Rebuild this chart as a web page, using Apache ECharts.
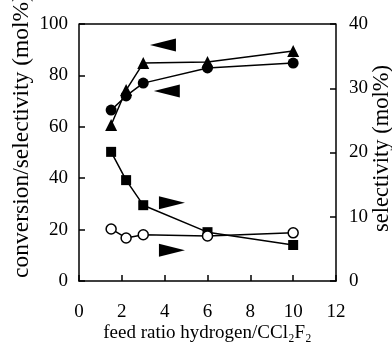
<!DOCTYPE html>
<html>
<head>
<meta charset="utf-8">
<script src="https://cdn.jsdelivr.net/npm/echarts@6/dist/echarts.min.js"></script>
<style>html,body{margin:0;padding:0;background:#fff}#c{width:392px;height:344px}</style>
</head>
<body>
<div id="c"></div>
<script>
var feedRatio = [1.5, 2.2, 3, 6, 10];
var conversionTri = [60.7, 74.3, 84.8, 85.2, 89.5];   // left axis
var selectivityDot = [66.5, 72.0, 77.0, 82.9, 84.8];  // left axis
var selectivitySq = [20.1, 15.7, 11.8, 7.6, 5.6];     // right axis
var selectivityOpen = [8.1, 6.7, 7.2, 7.0, 7.5];      // right axis
// annotation arrows: [x, left-axis value, direction]
var arrowX = [3.92, 4.1, 4.34, 4.34];
var arrowY = [91.8, 73.9, 30.4, 12.0];
var arrowDir = ['left', 'left', 'right', 'right'];
var xTicks = [0, 2, 4, 6, 8, 10, 12];

function pairs(xs, ys){ return xs.map(function(x,i){ return [x, ys[i]]; }); }

var font = 'Liberation Serif';
var chart = echarts.init(document.getElementById('c'));
var lineStyle = {color:'#000', width:1.5};
chart.setOption({
  animation: false,
  backgroundColor: '#fff',
  grid: {left: 79, right: 56, top: 24, bottom: 63, containLabel: false, outerBoundsMode: 'none'},
  xAxis: {
    type: 'value', min: 0, max: 12, interval: 2,
    name: 'feed ratio hydrogen/CCl₂F₂', nameLocation: 'middle', nameGap: 43, nameMoveOverlap: false,
    nameTextStyle: {fontFamily: font, fontSize: 19, color: '#000'},
    axisLine: {show: true, lineStyle: {color: '#000', width: 1.5}},
    axisTick: {show: true, inside: true, length: 6, lineStyle: {color: '#000', width: 1.5}},
    axisLabel: {fontFamily: font, fontSize: 19, color: '#000', margin: 22,
      formatter: function(v){ return xTicks.indexOf(v) >= 0 ? String(v) : ''; }},
    splitLine: {show: false}
  },
  yAxis: [{
    type: 'value', min: 0, max: 100, interval: 20, position: 'left',
    name: 'conversion/selectivity (mol%)', nameLocation: 'middle', nameGap: 45, nameRotate: 90, nameMoveOverlap: false,
    nameTextStyle: {fontFamily: font, fontSize: 23.5, color: '#000', padding: [0, 0, 0, 33]},
    axisLine: {show: true, lineStyle: {color: '#000', width: 1.5}},
    axisTick: {show: true, inside: true, length: 6, lineStyle: {color: '#000', width: 1.5}},
    axisLabel: {fontFamily: font, fontSize: 19, color: '#000', margin: 11},
    splitLine: {show: false}
  }, {
    type: 'value', min: 0, max: 40, interval: 10, position: 'right',
    name: 'selectivity (mol%)', nameLocation: 'middle', nameGap: 35, nameRotate: 90, nameMoveOverlap: false,
    nameTextStyle: {fontFamily: font, fontSize: 22.5, color: '#000', padding: [0, 0, 0, 8]},
    axisLine: {show: true, lineStyle: {color: '#000', width: 1.5}},
    axisTick: {show: true, inside: true, length: 6, lineStyle: {color: '#000', width: 1.5}},
    axisLabel: {fontFamily: font, fontSize: 19, color: '#000', margin: 13},
    splitLine: {show: false}
  }],
  series: [
    {type: 'line', yAxisIndex: 0, data: pairs(feedRatio, conversionTri),
     symbol: 'triangle', symbolSize: 12, lineStyle: lineStyle,
     itemStyle: {color: '#000', opacity: 1}},
    {type: 'line', yAxisIndex: 0, data: pairs(feedRatio, selectivityDot),
     symbol: 'circle', symbolSize: 11, lineStyle: lineStyle,
     itemStyle: {color: '#000', opacity: 1}},
    {type: 'line', yAxisIndex: 1, data: pairs(feedRatio, selectivitySq),
     symbol: 'rect', symbolSize: 10, lineStyle: lineStyle,
     itemStyle: {color: '#000', opacity: 1}},
    {type: 'line', yAxisIndex: 1, data: pairs(feedRatio, selectivityOpen),
     symbol: 'circle', symbolSize: 10, showAllSymbol: true, lineStyle: lineStyle,
     itemStyle: {color: '#fff', borderColor: '#000', borderWidth: 1.5, opacity: 1}},
    {type: 'scatter', yAxisIndex: 0, symbol: 'triangle', symbolSize: [13, 26],
     itemStyle: {color: '#000', opacity: 1},
     data: arrowX.map(function(x,i){ return {value: [x, arrowY[i]], symbolRotate: arrowDir[i]==='left' ? 90 : -90}; })}
  ]
});
// top border of the frame
var gx = chart.convertToPixel({xAxisIndex:0}, 0), gx2 = chart.convertToPixel({xAxisIndex:0}, 12);
var gy = chart.convertToPixel({yAxisIndex:0}, 100);
chart.setOption({graphic: [{type:'line', shape:{x1:gx, y1:gy, x2:gx2, y2:gy}, style:{stroke:'#000', lineWidth:1.5}}]});
</script>
</body>
</html>
